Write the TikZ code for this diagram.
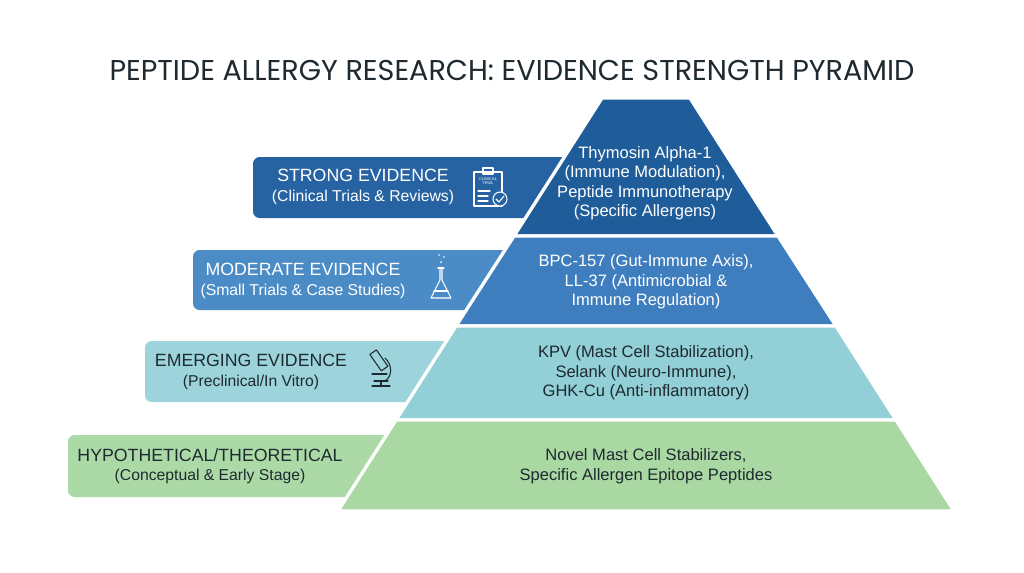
\documentclass[tikz,border=0pt]{standalone}
\usepackage{fontspec}
\setmainfont{Liberation Sans}
\newfontfamily\titlefont{Poppins}
\begin{document}
\begin{tikzpicture}[x=0.75pt,y=-0.75pt,
  tier/.style={draw=white,line width=2.5pt,line join=miter},
  lab/.style={rounded corners=5pt},
  ic/.style={line width=0.8pt,line cap=round,line join=round},
  t/.style={align=center,font=\fontsize{12.4}{14.6}\selectfont},
  ls/.style={align=center,font=\fontsize{11.8}{14.6}\selectfont}]
\definecolor{c1}{HTML}{1F5C9A}\definecolor{c2}{HTML}{3F7EBE}
\definecolor{c3}{HTML}{92CFD6}\definecolor{c4}{HTML}{A9D8A3}
\definecolor{l1}{HTML}{2763A2}\definecolor{l2}{HTML}{4B8CC7}
\definecolor{l3}{HTML}{9DD4DB}\definecolor{l4}{HTML}{ACDAA7}
\definecolor{dk}{HTML}{1E2A30}
\useasboundingbox[fill=white] (0,0) rectangle (1024,572);
\node[font=\titlefont\fontsize{21.5}{24}\selectfont,text=dk] (title) at (512,70) {PEPTIDE ALLERGY RESEARCH: EVIDENCE STRENGTH PYRAMID};
% label boxes
\fill[l1,lab] (253,157) rectangle (600,218);
\fill[l2,lab] (193,250) rectangle (560,310);
\fill[l3,lab] (145,341) rectangle (500,402);
\fill[l4,lab] (68,435) rectangle (420,497);
% pyramid
\fill[c1,tier] (602,98) -- (690,98) -- (778,236) -- (514,236) -- cycle;
\fill[c2,tier] (514,236) -- (778,236) -- (836,326) -- (456,326) -- cycle;
\fill[c3,tier] (456,326) -- (836,326) -- (896,420) -- (396,420) -- cycle;
\fill[c4,tier] (396,420) -- (896,420) -- (954,511) -- (338,511) -- cycle;
% label texts
\node[ls,text=white] (s) at (363,187) {{\fontsize{13.3}{16}\selectfont STRONG EVIDENCE}\\(Clinical Trials \& Reviews)};
\node[ls,text=white] (m) at (303,281) {{\fontsize{13.3}{16}\selectfont MODERATE EVIDENCE}\\(Small Trials \& Case Studies)};
\node[ls,text=dk] (e) at (251,372) {{\fontsize{13.3}{16}\selectfont EMERGING EVIDENCE}\\(Preclinical/In Vitro)};
\node[ls,text=dk] (h) at (210,466) {{\fontsize{13.3}{16}\selectfont HYPOTHETICAL/THEORETICAL}\\(Conceptual \& Early Stage)};
% pyramid texts
\node[t,text=white] (p1) at (645,183) {Thymosin Alpha-1\\(Immune Modulation),\\Peptide Immunotherapy\\(Specific Allergens)};
\node[t,text=white] (p2) at (646,282) {BPC-157 (Gut-Immune Axis),\\LL-37 (Antimicrobial \&\\Immune Regulation)};
\node[t,text=dk] (p3) at (646,373) {KPV (Mast Cell Stabilization),\\Selank (Neuro-Immune),\\GHK-Cu (Anti-inflammatory)};
\node[t,text=dk] (p4) at (646,466) {Novel Mast Cell Stabilizers,\\Specific Allergen Epitope Peptides};
% clipboard icon
\draw[ic,white] (474,172) rectangle (502,206);
\draw[ic,white] (483,168) rectangle (493,174);
\node[text=white,font=\fontsize{3}{3.5}\selectfont,align=center] (ct) at (488,181) {CLINICAL\\TRIAL};
\draw[ic,white] (478,191)--(490,191) (478,196)--(488,196) (478,201)--(488,201);
\draw[ic,white,fill=l1] (500,199) circle (7);
\draw[ic,white] (496,199)--(499,202)--(504,196);
% flask icon
\draw[ic,white] (440,268)--(440,280)--(431,298)--(451,298)--(442,280)--(442,268);
\draw[ic,white] (438,268)--(444,268) (434,291)--(448,291);
\fill[white] (441,262) circle (1) (444,257) circle (0.9) (439,255) circle (0.8);
% microscope icon
\draw[ic,dk] (372,386)--(390,386) (381,386)--(381,381) (374,381)--(388,381);
\draw[ic,dk] (385,381) .. controls (393,376) and (392,364) .. (385,358);
\draw[ic,dk,rotate around={35:(380,362)}] (376,350) rectangle (384,370);
\draw[ic,dk] (372,374)--(387,374);
\end{tikzpicture}
\end{document}
